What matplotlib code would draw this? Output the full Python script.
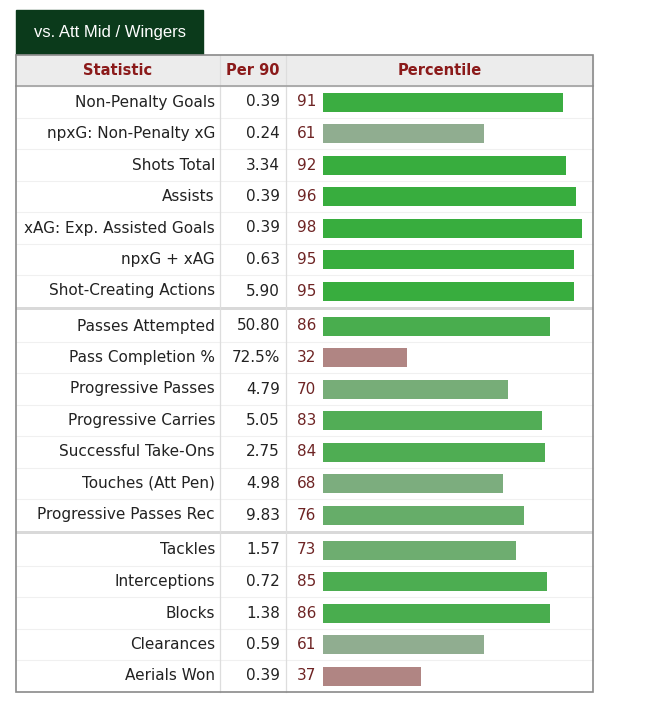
import numpy as np
import matplotlib
matplotlib.use('Agg')
import matplotlib.pyplot as plt
from matplotlib.patches import Rectangle
from matplotlib.colors import to_rgb

# Données
statistics = ['Non-Penalty Goals', 'npxG: Non-Penalty xG', 'Shots Total', 'Assists',
              'xAG: Exp. Assisted Goals', 'npxG + xAG', 'Shot-Creating Actions',
              'Passes Attempted', 'Pass Completion %', 'Progressive Passes',
              'Progressive Carries', 'Successful Take-Ons', 'Touches (Att Pen)',
              'Progressive Passes Rec',
              'Tackles', 'Interceptions', 'Blocks', 'Clearances', 'Aerials Won']
per90 = ['0.39', '0.24', '3.34', '0.39', '0.39', '0.63', '5.90',
         '50.80', '72.5%', '4.79', '5.05', '2.75', '4.98', '9.83',
         '1.57', '0.72', '1.38', '0.59', '0.39']
percentile = [91, 61, 92, 96, 98, 95, 95,
              86, 32, 70, 83, 84, 68, 76,
              73, 85, 86, 61, 37]
group = [0] * 7 + [1] * 7 + [2] * 5
title = 'vs. Att Mid / Wingers'


def bar_color(p):
    # dégradé façon fbref : rose en dessous de 50, vert grisé -> vert vif au-dessus
    if p < 50:
        return '#b08583'
    lo, hi = np.array(to_rgb('#93ad93')), np.array(to_rgb('#38ad3e'))
    t = np.clip((p - 60) / (92 - 60), 0, 1)
    return tuple(lo + (hi - lo) * t)


W, H = 660, 708
fig = plt.figure(figsize=(W / 100, H / 100), dpi=100)
ax = fig.add_axes([0, 0, 1, 1])
ax.set_xlim(0, W)
ax.set_ylim(H, 0)
ax.axis('off')

# mise en page (pixels)
left, right, top, bottom = 16, 593, 55, 692
head_h = 31
col1, col2 = 220, 286
row_h, sep = 31.5, 3.5
first_y = 102
idx = np.arange(len(statistics))
row_y = first_y + idx * row_h + np.array(group) * sep

# onglet
ax.add_patch(Rectangle((left, 10), 187, top - 10, color='#0b3a1b', zorder=1))
ax.text(left + 187 / 2, 32, title, color='white', fontsize=12,
        family='Liberation Sans', ha='center', va='center')

# en-tête
ax.add_patch(Rectangle((left, top), right - left, head_h, color='#ececec', zorder=1))
hc = '#8b1a1a'
ax.text((left + col1) / 2, top + head_h / 2, 'Statistic', color=hc, fontsize=10.5,
        weight='bold', ha='center', va='center')
ax.text((col1 + col2) / 2, top + head_h / 2, 'Per 90', color=hc, fontsize=10.5,
        weight='bold', ha='center', va='center')
ax.text((col2 + right) / 2, top + head_h / 2, 'Percentile', color=hc, fontsize=10.5,
        weight='bold', ha='center', va='center')

# lignes du tableau
for i in range(len(statistics) - 1):
    yb = row_y[i] + row_h / 2
    if group[i] != group[i + 1]:
        ax.add_patch(Rectangle((left, yb), right - left, sep, color='#d9d9d9', lw=0, zorder=2))
    else:
        ax.plot([left, right], [yb, yb], color='#f0f0f0', lw=0.8, zorder=2)
ax.plot([col1, col1], [top, bottom], color='#dddddd', lw=0.9, zorder=2)
ax.plot([col2, col2], [top, bottom], color='#dddddd', lw=0.9, zorder=2)
ax.plot([left, right], [top + head_h, top + head_h], color='#a0a0a0', lw=1.2, zorder=3)
ax.add_patch(Rectangle((left, top), right - left, bottom - top, fill=False,
                       ec='#8a8a8a', lw=1.2, zorder=3))

# textes
for i, name in enumerate(statistics):
    ax.text(215, row_y[i], name, fontsize=11, color='#222222', ha='right', va='center')
    ax.text(280, row_y[i], per90[i], fontsize=11, color='#222222', ha='right', va='center')
    ax.text(316, row_y[i], str(percentile[i]), fontsize=11, color='#6e2424',
            ha='right', va='center')

# barres
bx = fig.add_axes([323 / W, 0, (587 - 323) / W, 1])
bx.set_xlim(0, 100)
bx.set_ylim(H, 0)
bx.axis('off')
bx.patch.set_alpha(0)
bx.barh(row_y, percentile, height=19, color=[bar_color(p) for p in percentile])

fig.savefig('out.png', dpi=100)
